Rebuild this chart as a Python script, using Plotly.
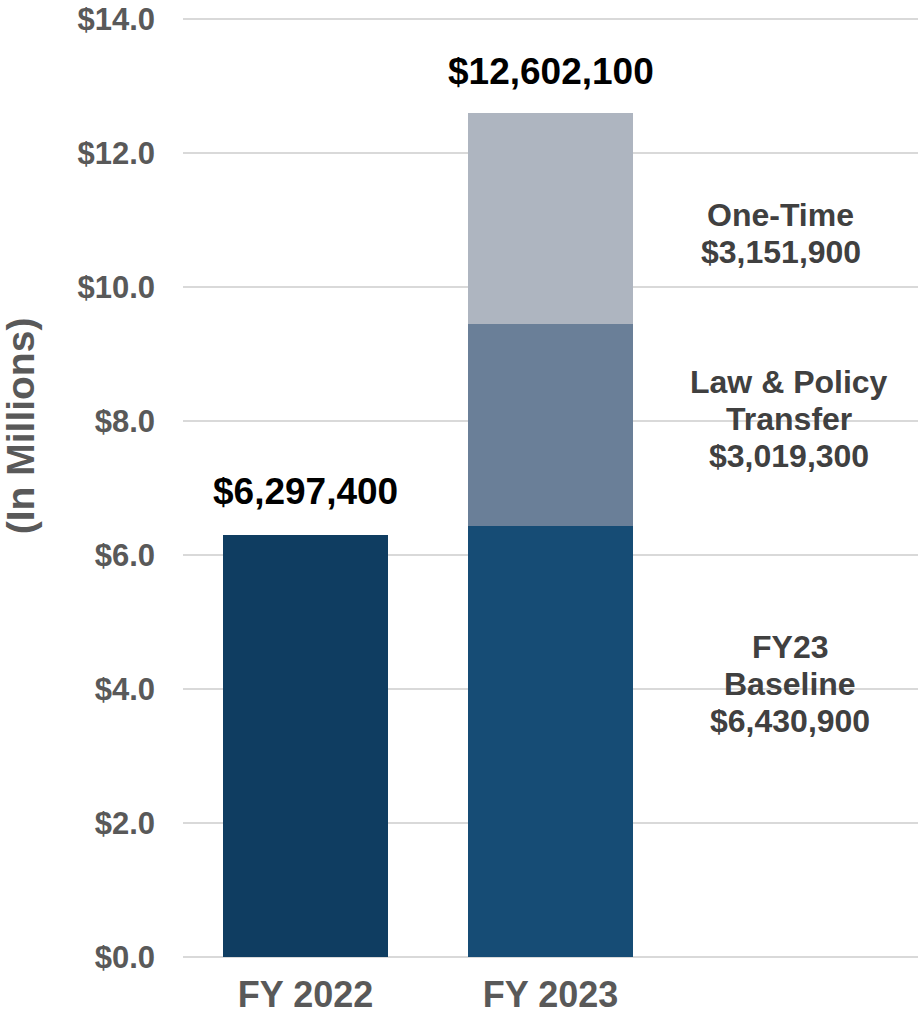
import plotly.graph_objects as go

categories = ["FY 2022", "FY 2023"]
fy2022_total = 6.2974
fy2023_baseline = 6.4309
fy2023_law_policy = 3.0193
fy2023_one_time = 3.1519
total_labels = ["$6,297,400", "$12,602,100"]
segment_labels = [
    (["One-Time", "$3,151,900"], 10.80, -15),
    (["Law & Policy", "Transfer", "$3,019,300"], 8.03, -7),
    (["FY23", "Baseline", "$6,430,900"], 4.07, -6),
]
y_ticks = [0, 2, 4, 6, 8, 10, 12, 14]
y_ticktext = ["$" + f"{v:.1f}" for v in y_ticks]

FONT = "Liberation Sans, Arial, sans-serif"
W = 0.67

fig = go.Figure()
fig.add_bar(x=[0], y=[fy2022_total], width=W, marker_color="#0F3D61", marker_line_width=0, hoverinfo="skip")
fig.add_bar(x=[1], y=[fy2023_baseline], width=W, marker_color="#164C75", marker_line_width=0, hoverinfo="skip")
fig.add_bar(x=[1], y=[fy2023_law_policy], width=W, marker_color="#6A7F98", marker_line_width=0, hoverinfo="skip")
fig.add_bar(x=[1], y=[fy2023_one_time], width=W, marker_color="#AEB5C0", marker_line_width=0, hoverinfo="skip")

totals = [fy2022_total, fy2023_baseline + fy2023_law_policy + fy2023_one_time]
total_shifts = [44, 41]
for i, (t, lab) in enumerate(zip(totals, total_labels)):
    fig.add_annotation(x=i, y=t, text=lab, showarrow=False, yanchor="middle", yshift=total_shifts[i],
                       font=dict(family=FONT, size=37, color="#000000", weight="bold"))

line_gap = 37
for lines, yc, xs in segment_labels:
    n = len(lines)
    for k, ln in enumerate(lines):
        off = ((n - 1) / 2 - k) * line_gap
        fig.add_annotation(x=2, y=yc, text=ln, showarrow=False, yanchor="middle", yshift=off,
                           xshift=xs,
                           font=dict(family=FONT, size=32, color="#404040", weight="bold"))

fig.add_annotation(xref="paper", yref="paper", x=-0.22, y=0.566, text="(In Millions)",
                   textangle=-90, showarrow=False, xanchor="center", yanchor="middle",
                   font=dict(family=FONT, size=39, color="#595959", weight="bold"))

fig.update_layout(
    width=918, height=1016,
    margin=dict(l=183, r=0, t=18, b=58),
    paper_bgcolor="white", plot_bgcolor="white",
    barmode="stack", showlegend=False, bargap=0,
    xaxis=dict(range=[-0.5, 2.5], tickvals=[0, 1], ticktext=categories, showgrid=False,
               zeroline=False, showline=False, ticks="", ticklabelstandoff=12,
               automargin=False, ticklabeloverflow="allow",
               tickfont=dict(family=FONT, size=36, color="#595959", weight="bold")),
    yaxis=dict(range=[-0.02, 14.02], tickvals=y_ticks, ticktext=y_ticktext,
               showgrid=True, gridcolor="#D9D9D9", gridwidth=1.5, zeroline=False,
               showline=False, ticks="", ticklabelstandoff=27, ticklabeloverflow="allow",
               automargin=False,
               tickfont=dict(family=FONT, size=31, color="#595959", weight="bold")),
)

fig.write_html("out.html", config={"displayModeBar": False},
               post_script="document.body.style.margin='0';")
